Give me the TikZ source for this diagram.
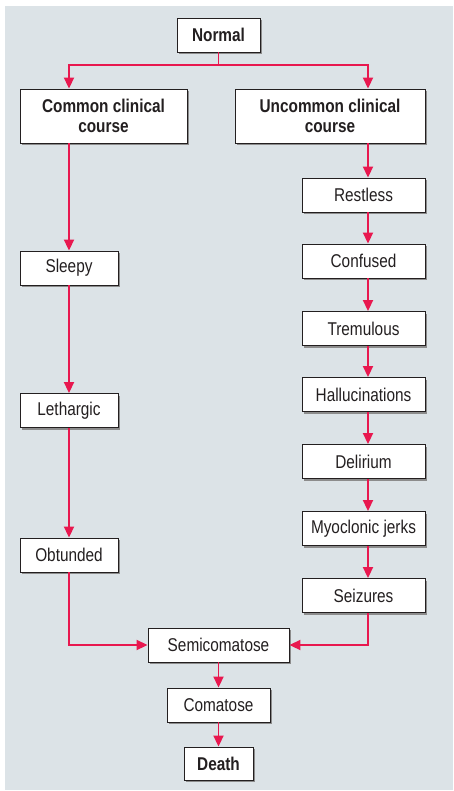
\documentclass[tikz,border=0pt]{standalone}
\usepackage{fontspec}
\setmainfont[FakeStretch=0.83]{Liberation Sans}
\usetikzlibrary{arrows.meta,shadows}
\definecolor{panel}{HTML}{DCE3E7}
\definecolor{flow}{HTML}{E8184F}
\definecolor{ink}{HTML}{231F20}
\begin{document}
\begin{tikzpicture}[x=1pt,y=-1pt,
  stage/.style={draw=ink,line width=0.9pt,fill=white,text=ink,inner sep=0pt,
    font=\fontsize{18.5}{20}\selectfont,align=center,
    drop shadow={shadow xshift=2.2pt,shadow yshift=-2.2pt,fill=black!45,opacity=1}},
  keystage/.style={stage,font=\fontsize{18.5}{20}\selectfont\bfseries},
  link/.style={draw=flow,line width=1.9pt,-{Triangle[length=11pt,width=10pt]}},
  plain/.style={draw=flow,line width=1.9pt}]
\useasboundingbox (0,0) rectangle (453,791);
\fill[panel] (5,6) rectangle (453,790);

% top of the chart
\node[keystage,minimum width=83pt,minimum height=34pt] (normal) at (218.5,35) {Normal};
\node[keystage,minimum width=167pt,minimum height=54pt] (common) at (103.5,116) {Common clinical\\course};
\node[keystage,minimum width=190pt,minimum height=54pt] (uncommon) at (330,116) {Uncommon clinical\\course};

% common course column
\node[stage,minimum width=98pt,minimum height=34pt] (sleepy) at (69,268) {Sleepy};
\node[stage,minimum width=98pt,minimum height=34pt] (lethargic) at (69,410.5) {Lethargic};
\node[stage,minimum width=98pt,minimum height=34pt] (obtunded) at (69,555) {Obtunded};

% uncommon course column
\node[stage,minimum width=123pt,minimum height=34pt] (restless) at (363.5,195) {Restless};
\node[stage,minimum width=123pt,minimum height=34pt] (confused) at (363.5,261) {Confused};
\node[stage,minimum width=123pt,minimum height=34pt] (tremulous) at (363.5,328.5) {Tremulous};
\node[stage,minimum width=123pt,minimum height=34pt] (halluc) at (363.5,394.5) {Hallucinations};
\node[stage,minimum width=123pt,minimum height=34pt] (delirium) at (363.5,461.5) {Delirium};
\node[stage,minimum width=123pt,minimum height=34pt] (myoclonic) at (363.5,528.5) {Myoclonic jerks};
\node[stage,minimum width=123pt,minimum height=34pt] (seizures) at (363.5,595.5) {Seizures};

% shared end stages
\node[stage,minimum width=141pt,minimum height=34pt] (semi) at (218.5,645) {Semicomatose};
\node[stage,minimum width=103pt,minimum height=34pt] (coma) at (218.5,705) {Comatose};
\node[keystage,minimum width=69pt,minimum height=33pt] (death) at (218.5,763.5) {Death};

% column guide lines and the split point
\coordinate (xl) at (69,0);
\coordinate (xr) at (368,0);
\coordinate (split) at (218.5,65);

% connectors
\draw[plain] (normal.south) -- (split);
\draw[link] (split) -| (common.north -| xl);
\draw[link] (split) -| (uncommon.north -| xr);

\draw[link] (common.south -| xl) -- (sleepy.north -| xl);
\draw[link] (sleepy.south -| xl) -- (lethargic.north -| xl);
\draw[link] (lethargic.south -| xl) -- (obtunded.north -| xl);
\draw[link] (obtunded.south -| xl) |- (semi.west);

\draw[link] (uncommon.south -| xr) -- (restless.north -| xr);
\draw[link] (restless.south -| xr) -- (confused.north -| xr);
\draw[link] (confused.south -| xr) -- (tremulous.north -| xr);
\draw[link] (tremulous.south -| xr) -- (halluc.north -| xr);
\draw[link] (halluc.south -| xr) -- (delirium.north -| xr);
\draw[link] (delirium.south -| xr) -- (myoclonic.north -| xr);
\draw[link] (myoclonic.south -| xr) -- (seizures.north -| xr);
\draw[link] (seizures.south -| xr) |- (semi.east);

\draw[link] (semi) -- (coma);
\draw[link] (coma) -- (death);
\end{tikzpicture}
\end{document}
